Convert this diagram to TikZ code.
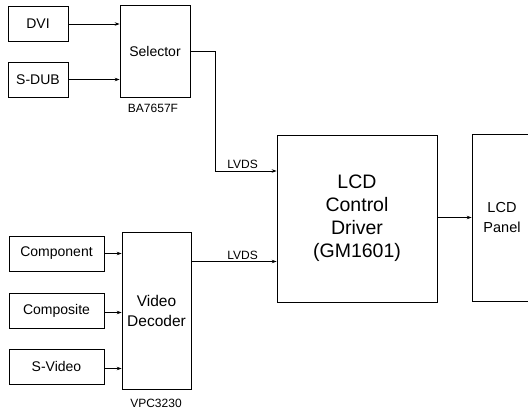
\documentclass[tikz,border=0pt]{standalone}
\usepackage{fontspec}
\setmainfont{Liberation Sans}
\usetikzlibrary{arrows.meta,positioning,calc}
\tikzset{
  inbox/.style={draw,line width=0.7pt,minimum width=60pt,minimum height=35pt,inner sep=0pt,align=center,font=\fontsize{14}{16}\selectfont},
  chipbox/.style={draw,line width=0.7pt,inner sep=0pt,align=center},
  partlabel/.style={inner sep=0pt,font=\fontsize{12}{14}\selectfont},
  line/.style={-{Stealth[length=5pt,width=3.5pt]},line width=0.7pt},
  plainline/.style={line width=0.7pt}
}

\begin{document}
\begin{tikzpicture}[x=1pt,y=-1pt]
  \useasboundingbox (0,0) rectangle (528,413);
  \clip (0,0) rectangle (528,413);
  % upper path
  \node[inbox] (dvi) at (38,24) {DVI};
  \node[inbox] (sdub) at (38,79.5) {S-DUB};
  \node[chipbox,minimum width=70pt,minimum height=92pt,font=\fontsize{14}{16}\selectfont] (sel) at (155,51) {Selector};
  \node[partlabel] (selname) at (153,108) {BA7657F};
  % lower path
  \node[inbox,minimum width=95pt] (comp) at (56.5,253.5) {Component};
  \node[inbox,minimum width=95pt] (cvbs) at (56.5,310.5) {Composite};
  \node[inbox,minimum width=95pt] (svid) at (56.5,366.5) {S-Video};
  \node[chipbox,minimum width=69pt,minimum height=157pt,font=\fontsize{15.5}{20}\selectfont] (dec) at (156.5,310.5) {Video\\Decoder};
  \node[partlabel] (decname) at (156,403) {VPC3230};
  % controller and panel
  \node[chipbox,minimum width=160pt,minimum height=167pt,font=\fontsize{19.5}{23}\selectfont] (ctrl) at (357,218.5) {LCD\\Control\\Driver\\(GM1601)};
  \node[chipbox,minimum width=60pt,minimum height=167pt,font=\fontsize{14.5}{20}\selectfont] (panel) at (502,217.5) {LCD\\Panel};
  % connectors
  \draw[line] (dvi.east) -- (dvi.east -| sel.west);
  \draw[line] (sdub.east) -- (sdub.east -| sel.west);
  \draw[line] (comp.east) -- (comp.east -| dec.west);
  \draw[line] ([yshift=-2pt]cvbs.east) -- ([yshift=-2pt]cvbs.east -| dec.west);
  \draw[line] ([yshift=-2pt]svid.east) -- ([yshift=-2pt]svid.east -| dec.west);
  \coordinate (in1) at ([yshift=47.5pt]ctrl.west);
  \coordinate (in2) at ([yshift=-43pt]ctrl.west);
  \draw[line] (sel.east) -- ++(25,0) |- (in1);
  \draw[line] (dec.east |- in2) -- (in2);
  \draw[line] (ctrl.east |- panel.west) -- (panel.west);
  \node[partlabel,above=2pt of in1,xshift=-34pt] (lvds1) {LVDS};
  \node[partlabel,above=2pt of in2,xshift=-34pt] (lvds2) {LVDS};
\end{tikzpicture}
\end{document}
